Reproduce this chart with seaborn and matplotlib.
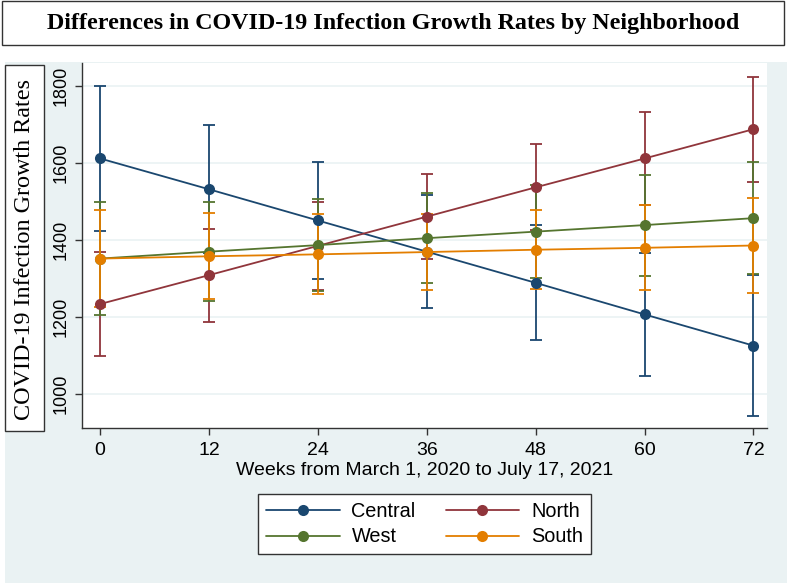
import numpy as np
import pandas as pd
import matplotlib
matplotlib.use("Agg")
import matplotlib.pyplot as plt
import seaborn as sns
from matplotlib.patches import Rectangle
from matplotlib.lines import Line2D

# -------------------------------------------------
# Data
# -------------------------------------------------
weeks = [0, 12, 24, 36, 48, 60, 72]
regions = ["Central", "North", "West", "South"]

central = [1612, 1532, 1451, 1370, 1289, 1207, 1126]
central_ci = [188, 166, 152, 146, 149, 160, 183]

north = [1234, 1309, 1385, 1461, 1537, 1612, 1688]
north_ci = [135, 121, 115, 110, 112, 121, 136]

west = [1352, 1370, 1387, 1405, 1422, 1439, 1457]
west_ci = [146, 129, 120, 117, 120, 131, 145]

south = [1352, 1358, 1363, 1369, 1375, 1380, 1386]
south_ci = [126, 112, 104, 99, 103, 110, 124]

yticks = [1000, 1200, 1400, 1600, 1800]

colors = {"Central": "#1a476f", "North": "#90353b",
          "West": "#55752f", "South": "#e37e00"}
bg = "#eaf2f3"

values = {"Central": central, "North": north, "West": west, "South": south}
cis = {"Central": central_ci, "North": north_ci, "West": west_ci, "South": south_ci}

rows = []
for r in regions:
    for w, v, c in zip(weeks, values[r], cis[r]):
        rows.append({"week": w, "rate": v, "ci": c, "region": r})
df = pd.DataFrame(rows)

# -------------------------------------------------
# Figure
# -------------------------------------------------
sns.set_style("white")
plt.rcParams["text.color"] = "black"
plt.rcParams["xtick.color"] = "black"
plt.rcParams["ytick.color"] = "black"
plt.rcParams["axes.labelcolor"] = "black"

fig = plt.figure(figsize=(7.87, 5.84), dpi=100)
W, H = 787, 584

def fx(px):
    return px / W

def fy(py):
    return 1 - py / H

# graph region background
fig.patches.append(Rectangle((fx(5), fy(583)), fx(782), 521 / H,
                             transform=fig.transFigure, facecolor=bg,
                             edgecolor="none", zorder=0))
# title box
fig.patches.append(Rectangle((fx(2), fy(45)), fx(782), 44 / H,
                             transform=fig.transFigure, facecolor="white",
                             edgecolor="#333333", lw=1, zorder=1))
fig.text(fx(393), fy(23), "Differences in COVID-19 Infection Growth Rates by Neighborhood",
         ha="center", va="center", fontsize=17.3, fontweight="bold",
         family="Liberation Serif", zorder=2)
# y label box
fig.patches.append(Rectangle((fx(5), fy(431)), fx(39), 366 / H,
                             transform=fig.transFigure, facecolor="white",
                             edgecolor="#333333", lw=1, zorder=1))
fig.text(fx(25), fy(249), "COVID-19 Infection Growth Rates", rotation=90,
         ha="center", va="center", fontsize=17.4, family="Liberation Serif", zorder=2)

ax = fig.add_axes([fx(82), fy(428), fx(767 - 82), (428 - 63) / H])
ax.set_zorder(3)
ax.set_facecolor("white")

# confidence intervals first
for r in regions:
    sub = df[df["region"] == r]
    ax.errorbar(sub["week"], sub["rate"], yerr=sub["ci"], fmt="none",
                ecolor=colors[r], elinewidth=1.3, capsize=4, capthick=1.3, zorder=2)

sns.lineplot(data=df, x="week", y="rate", hue="region", hue_order=regions,
             palette=colors, marker="o", markersize=8, markeredgewidth=0,
             linewidth=1.3, legend=False, ax=ax, zorder=3)

ax.set_xlim(-2, 73.5)
ax.set_ylim(912, 1860)
ax.set_xticks(weeks)
ax.set_yticks(yticks)
ax.yaxis.grid(True, color=bg, lw=1.2)
ax.set_axisbelow(True)
for s in ["top", "right"]:
    ax.spines[s].set_visible(False)
for s in ["left", "bottom"]:
    ax.spines[s].set_color("#333333")
    ax.spines[s].set_linewidth(1)
ax.tick_params(axis="both", direction="out", length=5, width=1, color="#333333",
               bottom=True, left=True)
ax.tick_params(axis="x", labelsize=14, pad=5)
ax.tick_params(axis="y", labelsize=13, labelrotation=90, pad=4)
for lab in ax.get_yticklabels():
    lab.set_va("center")
    lab.set_family("Liberation Sans")
for lab in ax.get_xticklabels():
    lab.set_family("Liberation Sans")
ax.set_xlabel("Weeks from March 1, 2020 to July 17, 2021", fontsize=14,
              family="Liberation Sans", labelpad=2)
ax.set_ylabel("")

handles = [Line2D([], [], color=colors[r], marker="o", markersize=8,
                  markeredgewidth=0, lw=1.3) for r in ["Central", "West", "North", "South"]]
labels = ["Central", "West", "North", "South"]
leg = fig.legend(handles, labels, ncol=2, loc="center", bbox_to_anchor=(fx(424.5), fy(524)),
                 frameon=True, fancybox=False, framealpha=1, edgecolor="#333333",
                 handlelength=3.7, columnspacing=1.5, handletextpad=0.6, borderpad=0.4,
                 labelspacing=0.35, prop={"family": "Liberation Sans", "size": 14.3})
leg.get_frame().set_linewidth(1)

fig.savefig("out.png", dpi=100, facecolor="white")
